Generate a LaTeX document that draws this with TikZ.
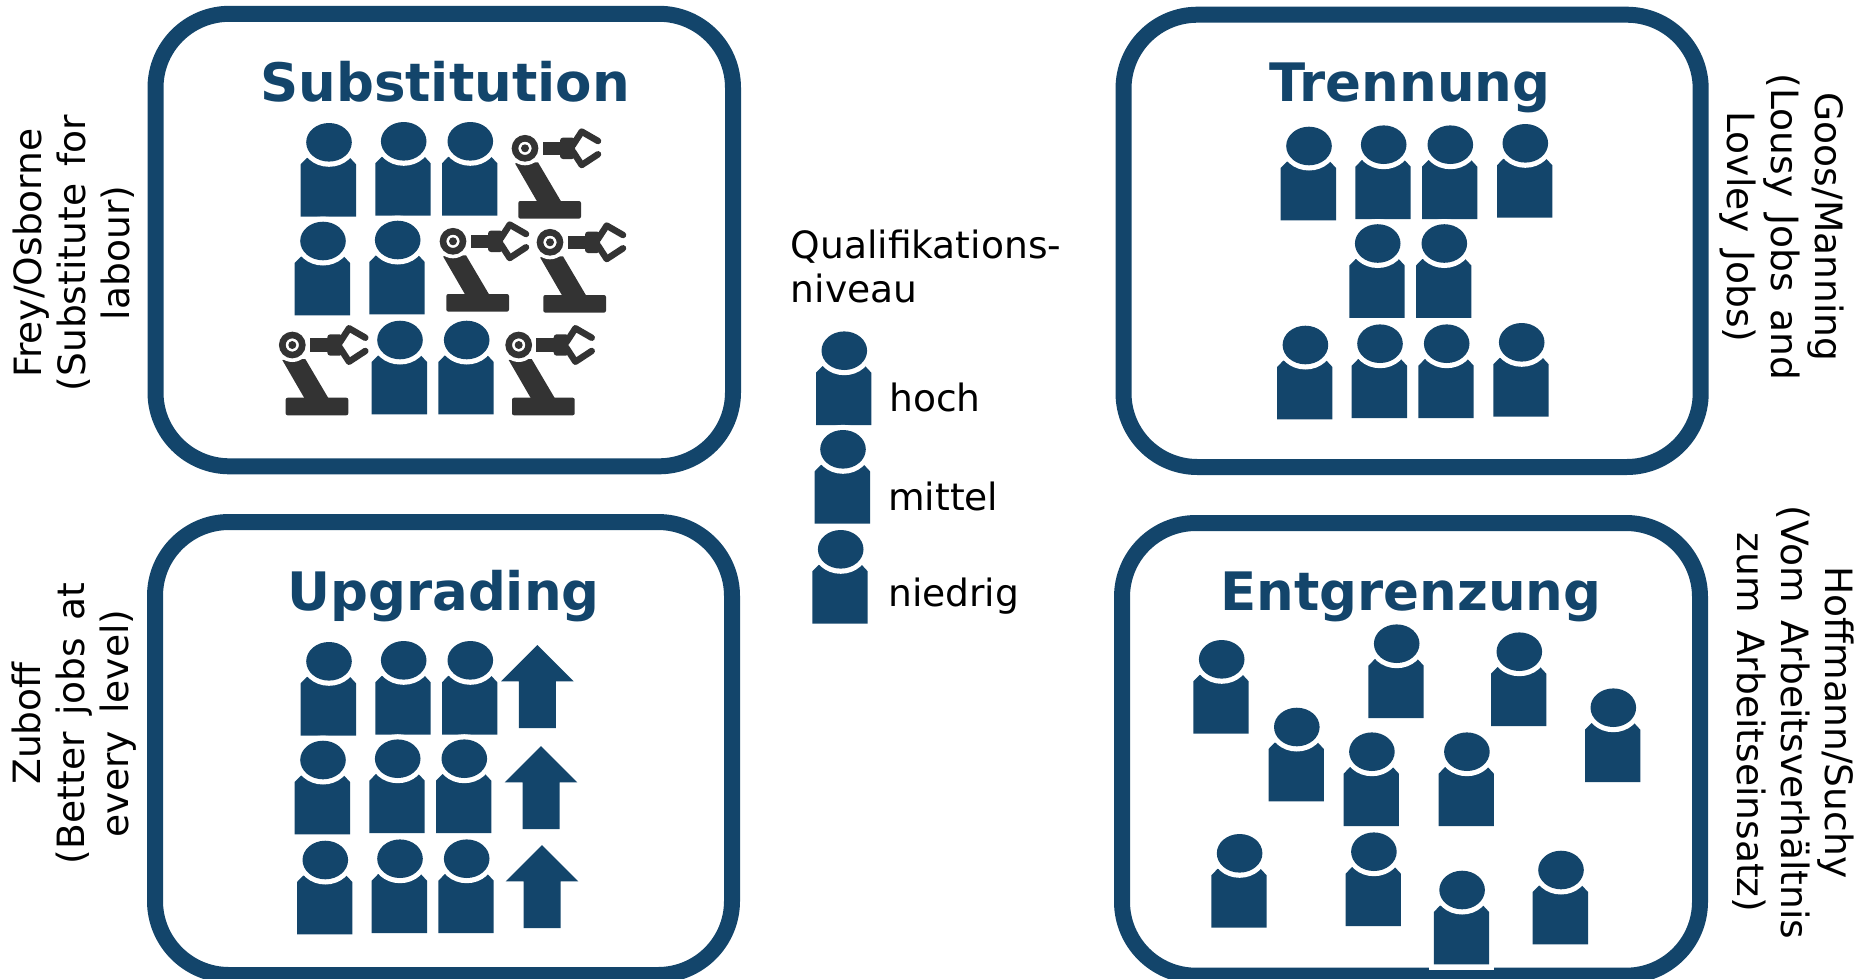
\documentclass[tikz,border=0pt]{standalone}
\usepackage{fontspec}
\setmainfont[WordSpace=1.45]{DejaVu Sans}
\usepackage{xcolor}
\definecolor{frameblue}{HTML}{13456B}
\definecolor{robotgrey}{HTML}{333333}

\tikzset{
	frame/.style={draw=frameblue, line width=16pt, rounded corners=74pt},
	title/.style={anchor=base west, inner sep=0pt, text=frameblue, font=\fontsize{53}{60}\selectfont\bfseries},
	sidetext/.style={inner sep=0pt, align=center, font=\fontsize{37.6}{44}\selectfont},
	legendtext/.style={anchor=base west, inner sep=0pt, font=\fontsize{37.6}{44}\selectfont},
	person/.pic={
		\fill [frameblue] (-28.3,74.3) -- (-28.3,22) -- (-22,15.5) -- (21,15.5) -- (27,22) -- (27,74.3) -- cycle;
		\fill [white] (0,0) ellipse [x radius=27.6pt, y radius=24.5pt];
		\fill [frameblue] (0,0) ellipse [x radius=22.8pt, y radius=19.3pt];
	},
	robot/.pic={
		\fill [robotgrey] (-10,15) -- (13,14) -- (36,53) -- (12,53) -- cycle;
		\fill [white] (0,0) circle [radius=17pt];
		\draw [robotgrey, line width=6.6pt] (0,0) circle [radius=10pt];
		\fill [robotgrey] (0,0) circle [radius=4pt];
		\fill [robotgrey, rounded corners=2pt] (-6.7,52.7) rectangle (56,70.3);
		\fill [robotgrey] (17.7,-6.7) rectangle (38,6.7);
		\fill [robotgrey, rounded corners=3pt] (35,-10.7) rectangle (50,10.7);
		\draw [robotgrey, line width=6.5pt, line cap=round, line join=round] (48,-3.3) -- (56.7,-16.7) -- (73,-7.3);
		\draw [robotgrey, line width=6.5pt, line cap=round, line join=round] (48,3.3) -- (56.7,16.7) -- (73,6);
	},
	uparrow/.pic={
		\fill [frameblue] (0,0) -- (36.3,36.3) -- (18.5,36.3) -- (18.5,83) -- (-18.5,83) -- (-18.5,36.3) -- (-36.3,36.3) -- cycle;
	}
}

\begin{document}
\begin{tikzpicture}[x=1pt, y=-1pt]
	\useasboundingbox (0,0) rectangle (1860,978);

	\draw [frame] (155.5,13.8) rectangle (733,466.3);
	\draw [frame] (155,522) rectangle (732,975);
	\draw [frame] (1123.5,14.7) rectangle (1700.7,467);
	\draw [frame] (1122,523) rectangle (1700,975.7);

	\node (SUB) [title] at (260,101) {Substitution};
	\node (TRE) [title] at (1269,101.5) {Trennung};
	\node (UPG) [title] at (287,610) {Upgrading};
	\node (ENT) [title] at (1220,610) {Entgrenzung};

	\node (FREY) [sidetext, rotate=90] at (74,253) {Frey/Osborne\\(Substitute for\\labour)};
	\node (ZUB) [sidetext, rotate=90] at (74,723.5) {Zuboff\\(Better jobs at\\every level)};
	\node (GOOS) [sidetext, rotate=-90] at (1782,227) {Goos/Manning\\(Lousy Jobs and\\Lovley Jobs)};
	\node (HOFF) [sidetext, rotate=-90] at (1793,722.5) {Hoffmann/Suchy\\(Vom Arbeitsverhältnis\\zum Arbeitseinsatz)};

	\node (QUAL) [anchor=north west, inner sep=0pt, align=left, font=\fontsize{37.6}{44}\selectfont] at (790.5,230) {Qualifikations-\\niveau};
	\node (HOCH) [legendtext] at (889,411) {hoch};
	\node (MITTEL) [legendtext] at (888,510) {mittel};
	\node (NIEDRIG) [legendtext] at (888,606.7) {niedrig};

	% Substitution
	\pic at (329,142.3) {person};
	\pic at (403.7,141.3) {person};
	\pic at (470.3,141.3) {person};
	\pic at (525,148.3) {robot};
	\pic at (323,241) {person};
	\pic at (397.7,240) {person};
	\pic at (453,241.3) {robot};
	\pic at (550,242.3) {robot};
	\pic at (292.3,345) {robot};
	\pic at (400,340) {person};
	\pic at (466.7,340) {person};
	\pic at (518.7,345) {robot};

	% Trennung
	\pic at (1309,146) {person};
	\pic at (1383.7,144.7) {person};
	\pic at (1450.3,144.7) {person};
	\pic at (1525.3,143.3) {person};
	\pic at (1377.7,243.5) {person};
	\pic at (1444.3,243.5) {person};
	\pic at (1305.4,345) {person};
	\pic at (1380,343.7) {person};
	\pic at (1446.7,343.7) {person};
	\pic at (1521.7,342.3) {person};

	% Upgrading
	\pic at (329,661.3) {person};
	\pic at (403.7,660.3) {person};
	\pic at (470.3,660.3) {person};
	\pic at (323,760) {person};
	\pic at (397.7,758.7) {person};
	\pic at (464.3,758.7) {person};
	\pic at (325.3,860) {person};
	\pic at (400,858.7) {person};
	\pic at (466.7,858.7) {person};
	\pic at (537.3,645) {uparrow};
	\pic at (541,746) {uparrow};
	\pic at (542,845) {uparrow};

	% Entgrenzung
	\fill [white] (1429,960) rectangle (1494,969.5);
	\pic at (1221.7,659.3) {person};
	\pic at (1396.7,643.7) {person};
	\pic at (1519.3,651.7) {person};
	\pic at (1613.3,707.7) {person};
	\pic at (1296.8,727) {person};
	\pic at (1371.9,751.7) {person};
	\pic at (1466.9,751.7) {person};
	\pic at (1239.6,853.3) {person};
	\pic at (1373.9,851.7) {person};
	\pic at (1462.1,890) {person};
	\pic at (1561,870) {person};

	% Legende
	\pic at (844.3,350.7) {person};
	\pic at (843,449.3) {person};
	\pic at (840.7,549.3) {person};
\end{tikzpicture}
\end{document}
